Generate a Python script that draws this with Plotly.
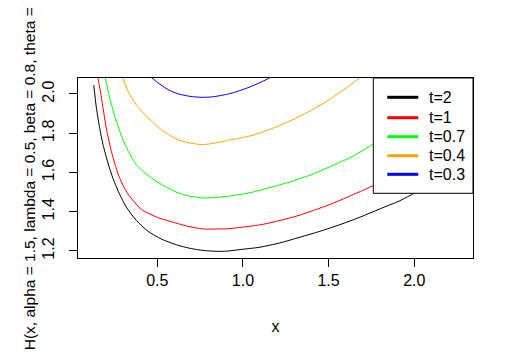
import plotly.graph_objects as go

# ---- data ----
black_x = [0.129, 0.144, 0.164, 0.183, 0.212, 0.242, 0.281, 0.319, 0.377, 0.446, 0.523, 0.574, 0.621,
           0.672, 0.730, 0.788, 0.850, 0.905, 0.983, 1.099, 1.216, 1.333, 1.449, 1.566, 1.683, 1.799,
           1.916, 2.004, 2.100, 2.256]
black_y = [2.045, 1.932, 1.824, 1.742, 1.648, 1.568, 1.487, 1.424, 1.356, 1.300, 1.261, 1.243, 1.229,
           1.217, 1.207, 1.201, 1.198, 1.199, 1.207, 1.219, 1.241, 1.270, 1.300, 1.334, 1.372, 1.414,
           1.456, 1.496, 1.537, 1.605]

red_x = [0.145, 0.154, 0.173, 0.202, 0.232, 0.271, 0.300, 0.329, 0.407, 0.504, 0.574, 0.672, 0.768,
         0.866, 0.924, 1.119, 1.314, 1.508, 1.664, 1.761, 1.950, 2.100, 2.256]
red_y = [2.130, 2.0815, 1.985, 1.827, 1.707, 1.592, 1.534, 1.490, 1.412, 1.370, 1.351, 1.327, 1.312,
         1.312, 1.314, 1.336, 1.378, 1.437, 1.495, 1.533, 1.615, 1.685, 1.760]

green_x = [0.185, 0.197, 0.222, 0.261, 0.310, 0.377, 0.465, 0.543, 0.621, 0.691, 0.768, 0.866,
           0.924, 1.041, 1.158, 1.275, 1.391, 1.508, 1.625, 1.702, 1.761, 1.950, 2.100, 2.256]
green_y = [2.130, 2.0815, 1.980, 1.861, 1.745, 1.640, 1.572, 1.530, 1.496, 1.479, 1.470, 1.474,
           1.480, 1.497, 1.523, 1.552, 1.586, 1.630, 1.675, 1.713, 1.745, 1.840, 1.920, 2.010]

orange_x = [0.285, 0.300, 0.329, 0.377, 0.446, 0.523, 0.621, 0.691, 0.768, 0.866, 0.924, 1.041,
            1.158, 1.275, 1.391, 1.508, 1.605, 1.683, 1.740]
orange_y = [2.120, 2.0815, 2.014, 1.945, 1.878, 1.818, 1.767, 1.750, 1.742, 1.755, 1.766, 1.786,
            1.820, 1.862, 1.913, 1.973, 2.032, 2.083, 2.120]

blue_x = [0.440, 0.469, 0.523, 0.574, 0.621, 0.691, 0.759, 0.827, 0.924, 0.963, 1.041, 1.158, 1.200]
blue_y = [2.105, 2.0815, 2.045, 2.017, 2.001, 1.988, 1.983, 1.986, 2.002, 2.012, 2.036, 2.083, 2.110]

series_names = ["t=2", "t=1", "t=0.7", "t=0.4", "t=0.3"]
series_colors = ["#000000", "#FF0000", "#00FF00", "#FFA500", "#0000FF"]
series_x = [black_x, red_x, green_x, orange_x, blue_x]
series_y = [black_y, red_y, green_y, orange_y, blue_y]

x_ticks = [0.5, 1.0, 1.5, 2.0]
y_ticks = [1.2, 1.4, 1.6, 1.8, 2.0]
x_range = [0.037, 2.343]
y_range = [1.164, 2.0815]

x_title = "x"
y_title = "H(x, alpha = 1.5, lambda = 0.5, beta = 0.8, theta ="

FONT = "Liberation Sans, Arial, sans-serif"

fig = go.Figure()
for name, col, xs, ys in zip(series_names, series_colors, series_x, series_y):
    fig.add_trace(go.Scatter(x=xs, y=ys, mode="lines", name=name,
                             line=dict(color=col, width=1, shape="spline", smoothing=0.7),
                             showlegend=False))

# manual R-style legend box (drawn above the curves)
lg_x0, lg_x1, lg_y0, lg_y1 = 0.7476, 1.0, 0.3594, 1.0
shapes = [dict(type="rect", xref="paper", yref="paper", x0=lg_x0, x1=lg_x1, y0=lg_y0, y1=lg_y1,
               fillcolor="white", line=dict(color="black", width=1), layer="above")]
row_y = [0.8928, 0.7794, 0.6739, 0.5683, 0.4650]
annotations = []
for name, col, ry in zip(series_names, series_colors, row_y):
    shapes.append(dict(type="line", xref="paper", yref="paper", x0=0.783, x1=0.8615, y0=ry, y1=ry,
                       line=dict(color=col, width=3), layer="above"))
    annotations.append(dict(text=name, xref="paper", yref="paper", x=0.884, y=ry,
                            xanchor="left", yanchor="middle", showarrow=False,
                            font=dict(family=FONT, size=16, color="black")))

annotations.append(dict(text=y_title, xref="paper", yref="paper", x=-0.122, y=-0.522,
                        xanchor="center", yanchor="bottom", textangle=-90, showarrow=False,
                        font=dict(family=FONT, size=15.5, color="black")))

fig.update_layout(
    width=514, height=356,
    margin=dict(l=78, r=41, t=78, b=98),
    paper_bgcolor="white", plot_bgcolor="white",
    font=dict(family=FONT, size=16, color="black"),
    shapes=shapes, annotations=annotations,
    showlegend=False,
)
fig.update_xaxes(range=x_range, tickvals=x_ticks, tickformat=".1f",
                 showgrid=False, zeroline=False,
                 showline=True, linecolor="black", linewidth=1, mirror=True,
                 ticks="outside", ticklen=8, tickcolor="black", tickwidth=1,
                 tickfont=dict(family=FONT, size=16, color="black"),
                 title=dict(text=x_title, standoff=32, font=dict(family=FONT, size=16, color="black")))
fig.update_yaxes(range=y_range, tickvals=y_ticks, tickformat=".1f", tickangle=-90,
                 showgrid=False, zeroline=False,
                 showline=True, linecolor="black", linewidth=1, mirror=True,
                 ticks="outside", ticklen=8, tickcolor="black", tickwidth=1,
                 ticklabelstandoff=9,
                 tickfont=dict(family=FONT, size=16, color="black"))

fig.write_html("out.html", config={"displayModeBar": False},
               post_script="document.body.style.margin='0';")
